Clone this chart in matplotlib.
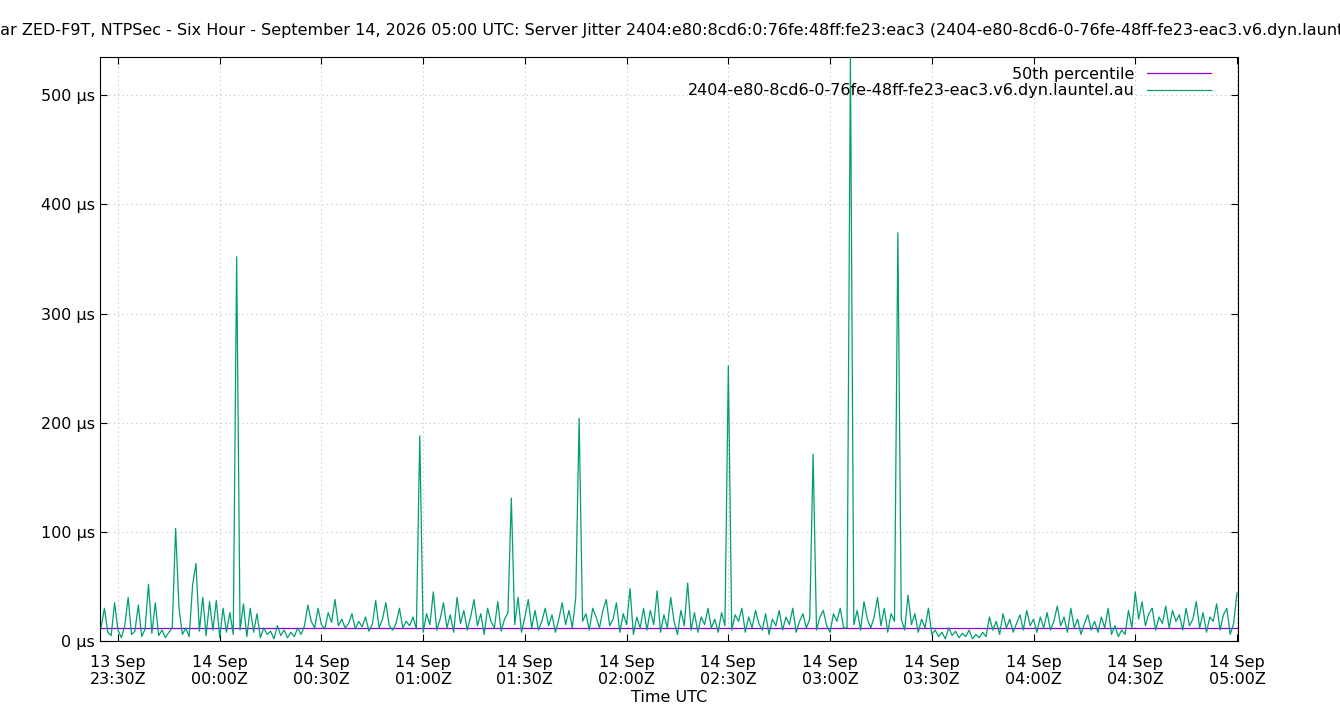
import matplotlib
matplotlib.use("Agg")
import matplotlib.pyplot as plt
import numpy as np

title = ("4, Bollar ZED-F9T, NTPSec - Six Hour - September 14, 2026 05:00 UTC: Server Jitter "
         "2404:e80:8cd6:0:76fe:48ff:fe23:eac3 (2404-e80-8cd6-0-76fe-48ff-fe23-eac3.v6.dyn.launtel.au)")
series_label = "2404-e80-8cd6-0-76fe-48ff-fe23-eac3.v6.dyn.launtel.au"
median_label = "50th percentile"
median_value = 12.0
start_minute = -5  # minutes after 23:30 on 13 Sep
jitter = [
12,30,8,5,35,10,3,14,40,6,9,33,4,11,52,7,35,5,10,3,
8,12,103,30,6,12,4,51,71,9,40,5,36,10,37,3,30,8,26,6,
352,10,34,4,30,8,25,3,12,6,9,2,14,5,10,3,8,4,12,6,
14,33,18,12,30,15,11,26,17,38,14,20,12,16,25,11,18,13,22,9,
15,37,12,20,35,14,10,16,30,12,18,14,22,11,188,8,25,15,45,10,
20,35,12,24,8,40,16,28,10,22,38,14,25,6,30,18,12,36,9,20,
26,131,15,40,8,22,38,12,28,10,18,30,14,24,8,20,35,15,28,12,
40,204,18,25,10,30,22,12,28,38,14,20,35,8,25,15,48,6,22,12,
30,10,28,15,46,8,24,12,40,18,6,28,14,53,10,26,8,22,15,30,
12,20,8,26,14,252,10,24,18,30,8,22,12,28,16,10,25,6,20,14,
28,10,22,15,30,8,18,25,12,20,171,10,22,28,14,8,25,18,30,12,
12,535,15,28,10,36,20,12,22,40,14,30,8,25,18,374,20,10,42,15,
25,8,20,12,30,6,10,4,8,2,12,5,9,3,7,4,10,2,6,3,
8,4,22,10,18,6,25,12,20,8,16,24,10,28,14,20,8,22,12,26,
10,18,32,14,22,8,30,12,20,6,16,24,10,18,8,22,12,30,6,14,
4,10,6,28,12,45,20,36,14,25,30,10,22,16,32,12,28,18,24,10,
30,14,20,36,12,26,8,22,18,34,10,24,30,6,16,44]
tick_minutes = [0, 30, 60, 90, 120, 150, 180, 210, 240, 270, 300, 330]
tick_labels = ["13 Sep\n23:30Z", "14 Sep\n00:00Z", "14 Sep\n00:30Z", "14 Sep\n01:00Z",
               "14 Sep\n01:30Z", "14 Sep\n02:00Z", "14 Sep\n02:30Z", "14 Sep\n03:00Z",
               "14 Sep\n03:30Z", "14 Sep\n04:00Z", "14 Sep\n04:30Z", "14 Sep\n05:00Z"]
y_ticks = [0, 100, 200, 300, 400, 500]

plt.rcParams['font.family'] = ['DejaVu Sans']
fig = plt.figure(figsize=(13.4, 7.2), dpi=100)
ax = fig.add_axes([100/1340, 79/720, 1138/1340, 584/720])
t = start_minute + np.arange(len(jitter))
ax.plot(t, jitter, color="#009e73", lw=0.9, label=series_label, zorder=3)
ax.axhline(median_value, color="#9400d3", lw=0.9, label=median_label, zorder=2)
ax.set_xlim(-5.3, 330.3)
ax.set_ylim(0, 535)
ax.set_xticks(tick_minutes)
ax.set_xticklabels(tick_labels, fontsize=11.5)
ax.set_yticks(y_ticks)
ax.set_yticklabels([f"{v} µs" for v in y_ticks], fontsize=11.5)
ax.tick_params(direction="in", top=True, right=True, length=5)
ax.tick_params(axis="x", pad=10)
ax.grid(True, color="#c0c0c0", ls=(0, (1, 3)), lw=0.8)
ax.set_xlabel("Time UTC", fontsize=11.5, labelpad=2)
h, l = ax.get_legend_handles_labels()
leg = ax.legend(h[::-1], l[::-1], loc="upper right", frameon=False, fontsize=11.5,
                markerfirst=False, handlelength=4.0, borderaxespad=0.2, labelspacing=0.1,
                bbox_to_anchor=(0.985, 1.0))
fig.text(0.5, 0.958, title, ha="center", va="center", fontsize=11.5)
fig.savefig("out.png", dpi=100)
